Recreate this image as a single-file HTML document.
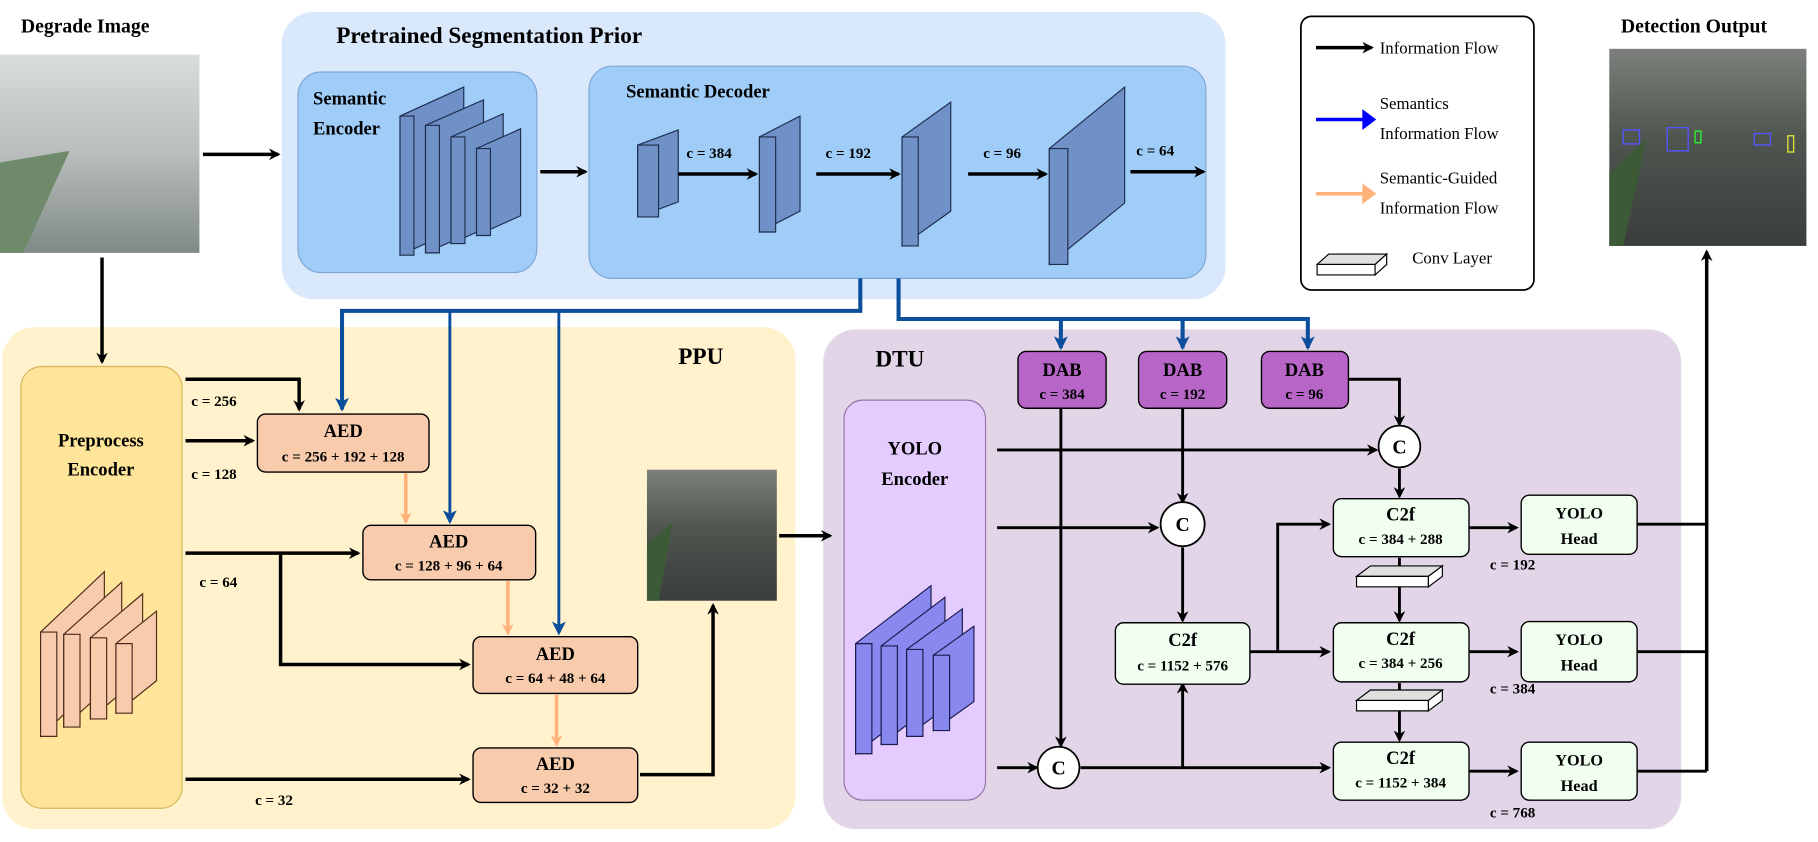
<!DOCTYPE html>
<html><head><meta charset="utf-8"><style>
html,body{margin:0;padding:0;background:#fff;}
svg{display:block;}
text{font-family:"Liberation Serif",serif;}
.b{font-weight:bold;}
</style></head><body>
<svg width="1818" height="842" viewBox="0 0 1568 726" xmlns="http://www.w3.org/2000/svg">
<defs>
<marker id="ak" markerWidth="10" markerHeight="10" refX="8" refY="5" orient="auto" markerUnits="userSpaceOnUse"><path d="M0,0 L10,5 L0,10 L3,5z" fill="#000"/></marker>
<marker id="ab" markerWidth="12" markerHeight="12" refX="10" refY="6" orient="auto" markerUnits="userSpaceOnUse"><path d="M0,0 L12,6 L0,12 L3,6z" fill="#0b4e9c"/></marker>
<marker id="ao" markerWidth="10" markerHeight="10" refX="8" refY="5" orient="auto" markerUnits="userSpaceOnUse"><path d="M0,0 L10,5 L0,10 L3,5z" fill="#ffb27a"/></marker>
<linearGradient id="fog" x1="0" y1="0" x2="0" y2="1"><stop offset="0" stop-color="#d9dcdc"/><stop offset="0.5" stop-color="#b9bdbc"/><stop offset="1" stop-color="#7f8a85"/></linearGradient>
<linearGradient id="clr" x1="0" y1="0" x2="0" y2="1"><stop offset="0" stop-color="#7d807c"/><stop offset="0.45" stop-color="#4f554f"/><stop offset="1" stop-color="#3a3e3d"/></linearGradient>
</defs>

<!-- Degrade image -->
<text x="18" y="28" class="b" font-size="17">Degrade Image</text>
<rect x="0" y="47" width="172" height="171" fill="url(#fog)"/>
<path d="M0,140 L60,130 L20,218 L0,218z" fill="#6f8a6a"/>
<line x1="175" y1="133" x2="240" y2="133" stroke="#000" stroke-width="3" marker-end="url(#ak)"/>

<!-- Pretrained -->
<rect x="243" y="10" width="814" height="248" rx="28" fill="#dae8fc"/>
<text x="290" y="37" class="b" font-size="20">Pretrained Segmentation Prior</text>
<rect x="257" y="62" width="206" height="173" rx="20" fill="#9fcdf8" stroke="#7ea6d8"/>
<text x="270" y="90" class="b" font-size="16">Semantic</text>
<text x="270" y="116" class="b" font-size="16">Encoder</text>
<g fill="#6f91c8" stroke="#1f2d4d" stroke-width="1">
<path d="M345,100 l55,-25 v120 l-55,25z"/><path d="M345,100 h12 v120 h-12z"/>
<path d="M367,108 l50,-22 v110 l-50,22z"/><path d="M367,108 h12 v110 h-12z"/>
<path d="M389,118 l45,-20 v92 l-45,20z"/><path d="M389,118 h12 v92 h-12z"/>
<path d="M411,128 l38,-17 v75 l-38,17z"/><path d="M411,128 h12 v75 h-12z"/>
</g>
<line x1="466" y1="148" x2="505" y2="148" stroke="#000" stroke-width="3" marker-end="url(#ak)"/>
<rect x="508" y="57" width="532" height="183" rx="20" fill="#9fcdf8" stroke="#7ea6d8"/>
<text x="540" y="84" class="b" font-size="16">Semantic Decoder</text>
<g fill="#6f91c8" stroke="#1f2d4d" stroke-width="1">
<path d="M550,125 l35,-13 v62 l-35,13z"/><path d="M550,125 h18 v62 h-18z"/>
<path d="M655,118 l35,-18 v82 l-35,18z"/><path d="M655,118 h14 v82 h-14z"/>
<path d="M778,118 l42,-30 v94 l-42,30z"/><path d="M778,118 h14 v94 h-14z"/>
<path d="M905,128 l65,-53 v100 l-65,53z"/><path d="M905,128 h16 v100 h-16z"/>
</g>
<g font-size="13" class="b"><text x="592" y="136">c = 384</text><text x="712" y="136">c = 192</text><text x="848" y="136">c = 96</text><text x="980" y="134">c = 64</text></g>
<g stroke="#000" stroke-width="3"><line x1="585" y1="150" x2="652" y2="150" marker-end="url(#ak)"/><line x1="704" y1="150" x2="775" y2="150" marker-end="url(#ak)"/><line x1="835" y1="150" x2="902" y2="150" marker-end="url(#ak)"/><line x1="975" y1="148" x2="1038" y2="148" marker-end="url(#ak)"/></g>

<!-- Legend -->
<rect x="1122" y="14" width="201" height="236" rx="9" fill="#fff" stroke="#000" stroke-width="1.5"/>
<g font-size="14.5">
<line x1="1135" y1="41" x2="1183" y2="41" stroke="#000" stroke-width="3" marker-end="url(#ak)"/><text x="1190" y="46">Information Flow</text>
<line x1="1135" y1="103" x2="1183" y2="103" stroke="#0000ff" stroke-width="3"/><path d="M1175,94 L1187,103 L1175,112z" fill="#0000ff"/><text x="1190" y="94">Semantics</text><text x="1190" y="120">Information Flow</text>
<line x1="1135" y1="167" x2="1183" y2="167" stroke="#ffb27a" stroke-width="3"/><path d="M1175,158 L1187,167 L1175,176z" fill="#ffb27a"/><text x="1190" y="158">Semantic-Guided</text><text x="1190" y="184">Information Flow</text>
<path d="M1136,228 l10,-9 h50 l-10,9z" fill="#e0e0e0" stroke="#000"/><path d="M1136,228 h50 v9 h-50z" fill="#fff" stroke="#000"/><path d="M1186,228 l10,-9 v9 l-10,9z" fill="#fff" stroke="#000"/>
<text x="1218" y="227">Conv Layer</text></g>

<!-- Detection Output -->
<text x="1398" y="28" class="b" font-size="17">Detection Output</text>
<rect x="1388" y="42" width="170" height="170" fill="url(#clr)"/>
<path d="M1388,150 L1420,120 L1400,212 L1388,212z" fill="#3c5a36"/>
<g fill="none" stroke-width="1.2"><rect x="1400" y="112" width="14" height="12" stroke="#5555ff"/><rect x="1438" y="110" width="18" height="20" stroke="#5555ff"/><rect x="1462" y="113" width="5" height="10" stroke="#33ee33"/><rect x="1513" y="115" width="14" height="10" stroke="#5555ff"/><rect x="1542" y="117" width="5" height="14" stroke="#dddd33"/></g>

<!-- PPU -->
<rect x="2" y="282" width="684" height="433" rx="28" fill="#fff2cc"/>
<text x="585" y="314" class="b" font-size="20">PPU</text>
<rect x="18" y="316" width="139" height="381" rx="18" fill="#ffe599" stroke="#d6b656"/>
<text x="87" y="385" class="b" font-size="16" text-anchor="middle">Preprocess</text>
<text x="87" y="410" class="b" font-size="16" text-anchor="middle">Encoder</text>
<g fill="#f8cbad" stroke="#4d2b1a" stroke-width="1">
<path d="M35,545 l55,-52 v90 l-55,52z"/><path d="M35,545 h14 v90 h-14z"/>
<path d="M55,547 l50,-45 v80 l-50,45z"/><path d="M55,547 h14 v80 h-14z"/>
<path d="M78,550 l45,-38 v70 l-45,38z"/><path d="M78,550 h14 v70 h-14z"/>
<path d="M100,555 l35,-28 v60 l-35,28z"/><path d="M100,555 h14 v60 h-14z"/>
</g>
<g fill="#f8cbad" stroke="#000" stroke-width="1.2">
<rect x="222" y="357" width="148" height="50" rx="7"/><rect x="313" y="453" width="149" height="47" rx="7"/><rect x="408" y="549" width="142" height="49" rx="7"/><rect x="408" y="645" width="142" height="47" rx="7"/>
</g>
<g class="b" text-anchor="middle">
<text x="296" y="377" font-size="16">AED</text><text x="296" y="398" font-size="13">c = 256 + 192 + 128</text>
<text x="387" y="472" font-size="16">AED</text><text x="387" y="492" font-size="13">c = 128 + 96 + 64</text>
<text x="479" y="569" font-size="16">AED</text><text x="479" y="589" font-size="13">c = 64 + 48 + 64</text>
<text x="479" y="664" font-size="16">AED</text><text x="479" y="684" font-size="13">c = 32 + 32</text>
</g>
<g stroke="#000" stroke-width="3" fill="none">
<polyline points="160,327 258,327 258,353" marker-end="url(#ak)"/>
<line x1="160" y1="380" x2="218" y2="380" marker-end="url(#ak)"/>
<line x1="160" y1="477" x2="309" y2="477" marker-end="url(#ak)"/>
<polyline points="242,477 242,573 404,573" marker-end="url(#ak)"/>
<line x1="160" y1="672" x2="404" y2="672" marker-end="url(#ak)"/>
<polyline points="552,668 615,668 615,522" marker-end="url(#ak)"/>
</g>
<g font-size="13" class="b"><text x="165" y="350">c = 256</text><text x="165" y="413">c = 128</text><text x="172" y="506">c = 64</text><text x="220" y="694">c = 32</text></g>
<g stroke="#ffb27a" stroke-width="3"><line x1="350" y1="408" x2="350" y2="450" marker-end="url(#ao)"/><line x1="438" y1="501" x2="438" y2="546" marker-end="url(#ao)"/><line x1="480" y1="599" x2="480" y2="642" marker-end="url(#ao)"/></g>
<rect x="558" y="405" width="112" height="113" fill="url(#clr)"/>
<path d="M558,470 L580,450 L568,518 L558,518z" fill="#3c5a36"/>

<!-- DTU -->
<rect x="710" y="284" width="740" height="431" rx="28" fill="#e1d5e7"/>
<text x="755" y="316" class="b" font-size="20">DTU</text>
<rect x="728" y="345" width="122" height="345" rx="16" fill="#e5ccff" stroke="#9673a6"/>
<text x="789" y="392" class="b" font-size="16" text-anchor="middle">YOLO</text>
<text x="789" y="418" class="b" font-size="16" text-anchor="middle">Encoder</text>
<g fill="#8888ee" stroke="#1a1a4d" stroke-width="1">
<path d="M738,555 l65,-50 v95 l-65,50z"/><path d="M738,555 h14 v95 h-14z"/>
<path d="M760,557 l55,-42 v85 l-55,42z"/><path d="M760,557 h14 v85 h-14z"/>
<path d="M782,560 l48,-35 v75 l-48,35z"/><path d="M782,560 h14 v75 h-14z"/>
<path d="M805,565 l35,-25 v65 l-35,25z"/><path d="M805,565 h14 v65 h-14z"/>
</g>
<g fill="#b865c8" stroke="#000" stroke-width="1.2"><rect x="878" y="303" width="76" height="49" rx="7"/><rect x="982" y="303" width="76" height="49" rx="7"/><rect x="1088" y="303" width="75" height="49" rx="7"/></g>
<g class="b" text-anchor="middle"><text x="916" y="324" font-size="16">DAB</text><text x="916" y="344" font-size="13">c = 384</text><text x="1020" y="324" font-size="16">DAB</text><text x="1020" y="344" font-size="13">c = 192</text><text x="1125" y="324" font-size="16">DAB</text><text x="1125" y="344" font-size="13">c = 96</text></g>
<g stroke="#000" stroke-width="2.5" fill="none">
<line x1="915" y1="352" x2="915" y2="643" marker-end="url(#ak)"/>
<line x1="1020" y1="352" x2="1020" y2="433" marker-end="url(#ak)"/>
<polyline points="1163,327 1207,327 1207,366" marker-end="url(#ak)"/>
<line x1="860" y1="388" x2="1187" y2="388" marker-end="url(#ak)"/>
<line x1="860" y1="455" x2="998" y2="455" marker-end="url(#ak)"/>
<line x1="860" y1="662" x2="894" y2="662" marker-end="url(#ak)"/>
<line x1="1020" y1="472" x2="1020" y2="535" marker-end="url(#ak)"/>
<line x1="932" y1="662" x2="1146" y2="662" marker-end="url(#ak)"/>
<line x1="1020" y1="662" x2="1020" y2="590" marker-end="url(#ak)"/>
<line x1="1078" y1="562" x2="1146" y2="562" marker-end="url(#ak)"/>
<polyline points="1102,562 1102,452 1146,452" marker-end="url(#ak)"/>
<line x1="1207" y1="404" x2="1207" y2="428" marker-end="url(#ak)"/>
<line x1="1207" y1="481" x2="1207" y2="535" marker-end="url(#ak)"/>
<line x1="1207" y1="589" x2="1207" y2="638" marker-end="url(#ak)"/>
<line x1="1267" y1="455" x2="1308" y2="455" marker-end="url(#ak)"/>
<line x1="1267" y1="562" x2="1308" y2="562" marker-end="url(#ak)"/>
<line x1="1267" y1="665" x2="1308" y2="665" marker-end="url(#ak)"/>
<polyline points="1412,452 1472,452"/><polyline points="1412,562 1472,562"/><polyline points="1412,665 1472,665"/>
</g>
<g fill="#fff" stroke="#000" stroke-width="1.5"><circle cx="1207" cy="385" r="18"/><circle cx="1020" cy="452" r="19"/><circle cx="913" cy="662" r="18"/></g>
<g class="b" font-size="17" text-anchor="middle"><text x="1207" y="391" font-family="Liberation Sans,sans-serif">C</text><text x="1020" y="458" font-family="Liberation Sans,sans-serif">C</text><text x="913" y="668" font-family="Liberation Sans,sans-serif">C</text></g>
<g fill="#f0fff0" stroke="#000" stroke-width="1.2">
<rect x="962" y="537" width="116" height="53" rx="7"/><rect x="1150" y="430" width="117" height="50" rx="7"/><rect x="1150" y="537" width="117" height="51" rx="7"/><rect x="1150" y="640" width="117" height="50" rx="7"/>
<rect x="1312" y="427" width="100" height="51" rx="7"/><rect x="1312" y="536" width="100" height="52" rx="7"/><rect x="1312" y="640" width="100" height="50" rx="7"/>
</g>
<g class="b" text-anchor="middle">
<text x="1020" y="557" font-size="16">C2f</text><text x="1020" y="578" font-size="13">c = 1152 + 576</text>
<text x="1208" y="449" font-size="16">C2f</text><text x="1208" y="469" font-size="13">c =  384 + 288</text>
<text x="1208" y="556" font-size="16">C2f</text><text x="1208" y="576" font-size="13">c =  384 + 256</text>
<text x="1208" y="659" font-size="16">C2f</text><text x="1208" y="679" font-size="13">c = 1152 + 384</text>
<text x="1362" y="447" font-size="14">YOLO</text><text x="1362" y="469" font-size="14">Head</text>
<text x="1362" y="556" font-size="14">YOLO</text><text x="1362" y="578" font-size="14">Head</text>
<text x="1362" y="660" font-size="14">YOLO</text><text x="1362" y="682" font-size="14">Head</text>
</g>
<g font-size="13" class="b"><text x="1285" y="491">c = 192</text><text x="1285" y="598">c = 384</text><text x="1285" y="705">c = 768</text></g>
<g stroke="#000" stroke-width="1">
<path d="M1170,497 l12,-9 h62 l-12,9z" fill="#e0e0e0"/><path d="M1170,497 h62 v9 h-62z" fill="#fff"/><path d="M1232,497 l12,-9 v9 l-12,9z" fill="#fff"/>
<path d="M1170,604 l12,-9 h62 l-12,9z" fill="#e0e0e0"/><path d="M1170,604 h62 v9 h-62z" fill="#fff"/><path d="M1232,604 l12,-9 v9 l-12,9z" fill="#fff"/>
</g>

<!-- Connectors drawn on top -->
<g stroke="#000" stroke-width="3" fill="none">
<line x1="88" y1="222" x2="88" y2="312" marker-end="url(#ak)"/>
<line x1="672" y1="462" x2="716" y2="462" marker-end="url(#ak)"/>
<line x1="1472" y1="665" x2="1472" y2="217" marker-end="url(#ak)"/>
</g>
<g stroke="#0b4e9c" stroke-width="3.5" fill="none">
<polyline points="742,240 742,268 295,268 295,353" marker-end="url(#ab)"/>
<polyline points="388,268 388,450" marker-end="url(#ab)" stroke-width="2.5"/>
<polyline points="482,268 482,546" marker-end="url(#ab)" stroke-width="2.5"/>
<polyline points="775,240 775,275 1128,275 1128,300" marker-end="url(#ab)"/>
<line x1="915" y1="275" x2="915" y2="300" marker-end="url(#ab)"/>
<line x1="1020" y1="275" x2="1020" y2="300" marker-end="url(#ab)"/>
</g>
</svg>
</body></html>
